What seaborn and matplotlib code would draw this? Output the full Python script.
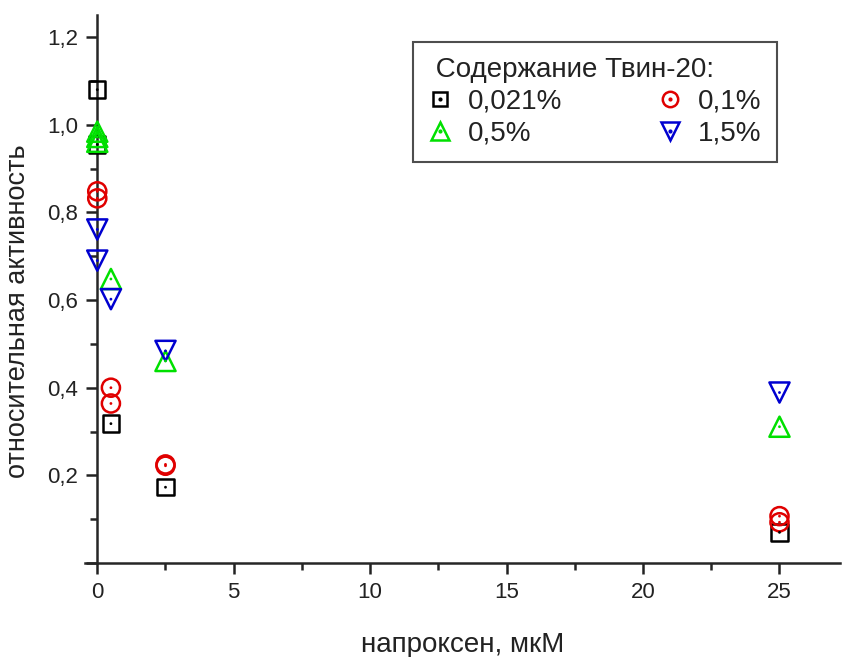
import matplotlib
matplotlib.use("Agg")
import matplotlib.pyplot as plt
import seaborn as sns
import pandas as pd
from matplotlib.lines import Line2D
from matplotlib.legend_handler import HandlerTuple
from matplotlib.ticker import MultipleLocator, FuncFormatter

sns.set_style("ticks")
plt.rcParams["font.family"] = ["Liberation Sans", "DejaVu Sans"]

# Tween-20 content groups and their measurements (naproxen, µM -> relative activity)
groups = ["0,021%", "0,1%", "0,5%", "1,5%"]

conc_0021 = [0, 0, 0.5, 2.5, 25]
act_0021 = [1.08, 0.955, 0.318, 0.173, 0.070]

conc_01 = [0, 0, 0.5, 0.5, 2.5, 2.5, 25, 25]
act_01 = [0.848, 0.832, 0.400, 0.364, 0.225, 0.222, 0.107, 0.093]

conc_05 = [0, 0, 0, 0.5, 2.5, 25]
act_05 = [0.984, 0.972, 0.961, 0.648, 0.461, 0.311]

conc_15 = [0, 0, 0.5, 2.5, 25]
act_15 = [0.761, 0.690, 0.602, 0.484, 0.389]

colors = {"0,021%": "#000000", "0,1%": "#e00000", "0,5%": "#00e000", "1,5%": "#0000d0"}
markers = {"0,021%": "s", "0,1%": "o", "0,5%": "^", "1,5%": "v"}
msize = {"0,021%": 140, "0,1%": 170, "0,5%": 210, "1,5%": 210}

frames = []
for g, xs, ys in zip(groups,
                     [conc_0021, conc_01, conc_05, conc_15],
                     [act_0021, act_01, act_05, act_15]):
    frames.append(pd.DataFrame({"conc": xs, "act": ys, "group": g}))
df = pd.concat(frames, ignore_index=True)

fig = plt.figure(figsize=(8.44, 6.57), dpi=100)
ax = fig.add_axes([0.1007, 0.143, 0.894, 0.834])

for g in groups:
    sub = df[df.group == g]
    sns.scatterplot(data=sub, x="conc", y="act", ax=ax, marker=markers[g],
                    s=msize[g], facecolors="none", edgecolor=colors[g],
                    linewidth=1.8, legend=False, zorder=3)
    # centre dot inside each hollow marker
    sns.scatterplot(data=sub, x="conc", y="act", ax=ax, marker="o",
                    s=4, color=colors[g], edgecolor="none",
                    legend=False, zorder=4)

ax.set_xlim(-0.45, 27.2)
ax.set_ylim(0, 1.25)
ax.spines["left"].set_position(("data", 0))
ax.spines["right"].set_visible(False)
ax.spines["top"].set_visible(False)
for sp in ("left", "bottom"):
    ax.spines[sp].set_linewidth(1.8)

ax.xaxis.set_major_locator(MultipleLocator(5))
ax.xaxis.set_minor_locator(MultipleLocator(2.5))
ax.yaxis.set_major_locator(MultipleLocator(0.2))
ax.yaxis.set_minor_locator(MultipleLocator(0.1))
ax.yaxis.set_major_formatter(FuncFormatter(
    lambda v, p: "" if v < 0.1 else f"{v:.1f}".replace(".", ",")))
ax.xaxis.set_major_formatter(FuncFormatter(lambda v, p: f"{v:g}"))
ax.tick_params(which="major", direction="out", length=8, width=1.8,
               labelsize=16, colors="#222222", pad=6)
ax.tick_params(which="minor", direction="out", length=5, width=1.8)

ax.set_xlabel("напроксен, мкМ", fontsize=20, color="#222222")
ax.xaxis.set_label_coords(0.5, -0.125)
ax.set_ylabel("относительная активность", fontsize=19.5, color="#222222")
ax.yaxis.set_label_coords(-0.071, 0.46)

handles = []
for g in groups:
    h1 = Line2D([], [], marker=markers[g], linestyle="none",
                markersize=msize[g] ** 0.5 * 0.85,
                markerfacecolor="none", markeredgecolor=colors[g],
                markeredgewidth=1.8)
    h2 = Line2D([], [], marker="o", linestyle="none", markersize=2,
                color=colors[g])
    handles.append((h1, h2))
order = [0, 2, 1, 3]
leg = ax.legend([handles[i] for i in order], [groups[i] for i in order],
                title=" Содержание Твин-20:", ncol=2,
                handler_map={tuple: HandlerTuple(ndivide=1, pad=0)},
                loc="upper left", bbox_to_anchor=(0.435, 0.951),
                borderaxespad=0, fontsize=20, title_fontsize=20,
                frameon=True, fancybox=False, edgecolor="#222222",
                columnspacing=3.5, handletextpad=0.6, handlelength=0.8,
                labelspacing=0.2, borderpad=0.55)
leg._legend_box.align = "left"
leg.get_frame().set_linewidth(1.5)
for t in leg.get_texts():
    t.set_color("#222222")
leg.get_title().set_color("#222222")

fig.savefig("out.png", dpi=100)
